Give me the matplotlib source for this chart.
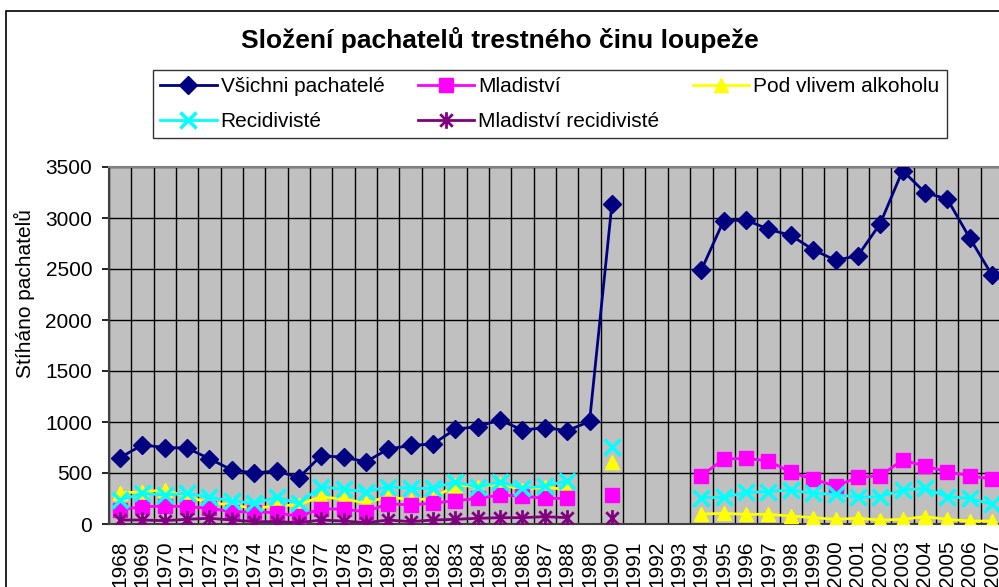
import matplotlib.pyplot as plt
import numpy as np
from matplotlib.path import Path
from matplotlib.patches import Rectangle

plt.rcParams['font.family'] = ['Liberation Sans', 'DejaVu Sans']

nan = np.nan
years = [str(y) for y in range(1968, 2008)]

# 1968 .. 2007 (gaps = no data)
vsichni = [650, 775, 750, 745, 640, 530, 500, 520, 455, 670, 655, 610, 735, 770,
           785, 930, 955, 1020, 920, 945, 915, 1005, 3135, nan, nan, nan,
           2490, 2975, 2980, 2890, 2830, 2690, 2585, 2630, 2945, 3465, 3250, 3185, 2805, 2440]
mladistvi = [140, 170, 175, 170, 155, 120, 120, 110, 75, 150, 145, 120, 200, 186,
             205, 228, 251, 284, 274, 251, 251, nan, 284, nan, nan, nan,
             473, 636, 643, 620, 506, 441, 372, 457, 473, 627, 568, 512, 473, 441]
alkohol = [305, 315, 333, 268, 209, 186, 154, 176, 190, 268, 242, 209, 268, 235,
           250, 382, 366, 392, 333, 366, 333, nan, 610, nan, nan, nan,
           98, 104, 95, 95, 78, 62, 46, 56, 39, 46, 72, 46, 29, 29]
recidiviste = [235, 300, 284, 300, 261, 228, 202, 261, 202, 366, 340, 317, 366, 349,
               349, 415, 359, 415, 349, 372, 421, nan, 751, nan, nan, nan,
               258, 261, 310, 317, 333, 300, 291, 261, 268, 333, 349, 268, 251, 193]
ml_recid = [39, 39, 33, 46, 56, 39, 23, 23, 13, 39, 29, 13, 39, 23,
            39, 46, 56, 62, 62, 72, 62, nan, 56, nan, nan, nan,
            nan, nan, nan, nan, nan, nan, nan, nan, nan, nan, nan, nan, nan, nan]

# excel style asterisk: vertical line + X
ast = Path([(0, -1), (0, 1), (-0.75, -0.75), (0.75, 0.75), (-0.75, 0.75), (0.75, -0.75)],
           [Path.MOVETO, Path.LINETO, Path.MOVETO, Path.LINETO, Path.MOVETO, Path.LINETO])

fig = plt.figure(figsize=(9.99, 5.87), dpi=100)
W, H = 999, 587
ax = fig.add_axes([108.8 / W, 1 - 524 / H, (1003.2 - 108.8) / W, (524 - 167) / H])
ax.set_facecolor('#C0C0C0')

x = np.arange(len(years))
l1, = ax.plot(x, vsichni, color='#000080', marker='D', ms=9, lw=2, label='Všichni pachatelé', zorder=5)
l2, = ax.plot(x, mladistvi, color='#FF00FF', marker='s', ms=10, lw=2, label='Mladiství', zorder=4)
l3, = ax.plot(x, alkohol, color='#FFFF00', marker='^', ms=10, lw=2, label='Pod vlivem alkoholu', zorder=3)
l4, = ax.plot(x, recidiviste, color='#00FFFF', marker='x', ms=11, mew=2.5, lw=2, label='Recidivisté', zorder=4)
l5, = ax.plot(x, ml_recid, color='#800080', marker=ast, ms=12, mew=2, lw=2, label='Mladiství recidivisté', zorder=4)

ax.set_xlim(-0.5, len(years) - 0.5)
ax.set_ylim(0, 3500)
ax.set_yticks(range(0, 3501, 500))
ax.set_xticks(x)
ax.set_xticklabels(years, rotation=90, va='top', ha='center')
ax.set_xticks(np.arange(-0.5, len(years)), minor=True)
ax.grid(False)
ax.yaxis.grid(True, color='black', lw=1.0)
ax.xaxis.grid(True, which='minor', color='black', lw=1.0)
ax.set_axisbelow(True)
ax.tick_params(axis='x', which='both', length=0, labelsize=15, pad=12)
ax.tick_params(axis='y', length=5, width=1.2, labelsize=15, pad=7)
for s in ['top', 'right']:
    ax.spines[s].set_color('#808080')
    ax.spines[s].set_linewidth(1.5)
for s in ['left', 'bottom']:
    ax.spines[s].set_color('#404040')
    ax.spines[s].set_linewidth(1.5)

ax.set_ylabel('Stíháno pachatelů', fontsize=15)
ax.yaxis.set_label_coords(35 / W, 0.5, transform=fig.transFigure)

fig.text(0.5, 1 - 40 / H, 'Složení pachatelů trestného činu loupeže',
         ha='center', va='center', fontsize=19, fontweight='bold')

leg = fig.legend([l1, l4, l2, l5, l3],
                 ['Všichni pachatelé', 'Recidivisté', 'Mladiství', 'Mladiství recidivisté', 'Pod vlivem alkoholu'],
                 ncol=3, loc='upper left', bbox_to_anchor=(153 / W, 1 - 70 / H),
                 fontsize=15, frameon=True, fancybox=False, edgecolor='black',
                 handlelength=2.7, handletextpad=0.2, columnspacing=1.6,
                 labelspacing=0.75, borderpad=0.35, borderaxespad=0)
leg.get_frame().set_linewidth(1.0)

# chart area border (cropped at right/bottom)
fig.patches.append(Rectangle((6 / W, -0.1), 1.2, 1 - 11 / H + 0.1, transform=fig.transFigure,
                             fill=False, edgecolor='black', lw=1.2, clip_on=False))

fig.savefig('out.png', dpi=100)
